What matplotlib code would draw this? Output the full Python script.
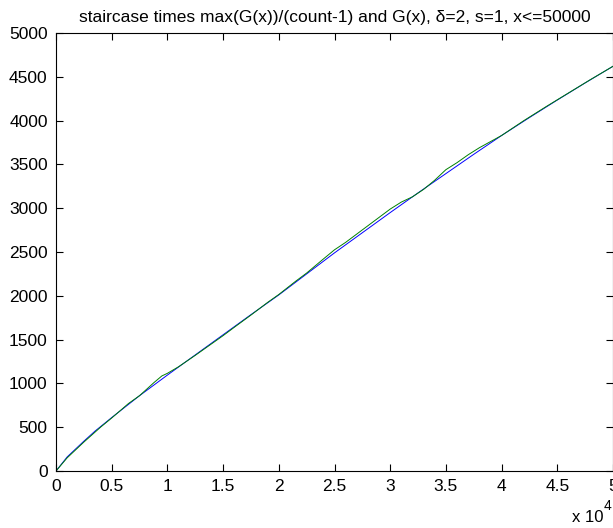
import matplotlib
matplotlib.use("Agg")
import matplotlib.pyplot as plt

# staircase times max(G(x))/(count-1)
stair_x = [0, 1000, 2500, 3500, 5000, 7500, 10000, 12500, 15000, 17500, 20000,
           22500, 25000, 27500, 30000, 32500, 35000, 37500, 40000, 42500, 45000,
           47500, 50000]
stair_y = [0, 160, 340, 455, 610, 860, 1095, 1325, 1555, 1785, 2010,
           2250, 2490, 2720, 2950, 3175, 3395, 3615, 3830, 4035, 4235,
           4430, 4620]

# G(x)
g_x = [0, 1000, 2500, 4000, 5000, 6500, 7500, 8800, 9500, 10000, 11000, 12500,
       14000, 15000, 16000, 17500, 19000, 20000, 21500, 22500, 24000, 25000,
       26000, 27000, 28000, 29000, 30000, 31000, 32000, 33000, 34000, 35000,
       36000, 37000, 38000, 39000, 40000, 42000, 44000, 46000, 48000, 50000]
g_y = [0, 150, 330, 500, 605, 770, 860, 1010, 1085, 1115, 1190, 1320,
       1455, 1545, 1640, 1780, 1925, 2015, 2165, 2260, 2420, 2525,
       2610, 2705, 2800, 2895, 2990, 3070, 3130, 3215, 3320, 3440,
       3520, 3610, 3690, 3760, 3830, 4000, 4160, 4315, 4470, 4620]

xticks = [0, 5000, 10000, 15000, 20000, 25000, 30000, 35000, 40000, 45000, 50000]
xticklabels = ["0", "0.5", "1", "1.5", "2", "2.5", "3", "3.5", "4", "4.5", "5"]
yticks = [0, 500, 1000, 1500, 2000, 2500, 3000, 3500, 4000, 4500, 5000]

plt.rcParams['font.family'] = ['Liberation Sans', 'DejaVu Sans']

W, H = 613, 528
fig = plt.figure(figsize=(W / 100, H / 100), dpi=100)
ax = fig.add_axes([56 / W, (H - 471) / H, 557 / W, 438 / H])

ax.plot(stair_x, stair_y, color=(0, 0, 1), lw=0.7)
ax.plot(g_x, g_y, color=(0, 0.5, 0), lw=0.7)

ax.set_xlim(0, 50000)
ax.set_ylim(0, 5000)
ax.set_xticks(xticks)
ax.set_xticklabels(xticklabels)
ax.set_yticks(yticks)
ax.tick_params(direction='in', length=5, width=0.8, top=True, right=True,
               labelsize=12.5, colors='black')
ax.tick_params(axis='y', pad=6)
ax.tick_params(axis='x', pad=6)
for sp in ax.spines.values():
    sp.set_linewidth(0.8)

ax.set_title("staircase times max(G(x))/(count-1) and G(x), \u03b4=2, s=1, x<=50000",
             fontsize=12.5, pad=8)

fig.text(603 / W, 1 - 517 / H, "x 10", fontsize=12, ha='right', va='center')
fig.text(604 / W, 1 - 506 / H, "4", fontsize=10, ha='left', va='center')

fig.savefig("out.png", dpi=100)
